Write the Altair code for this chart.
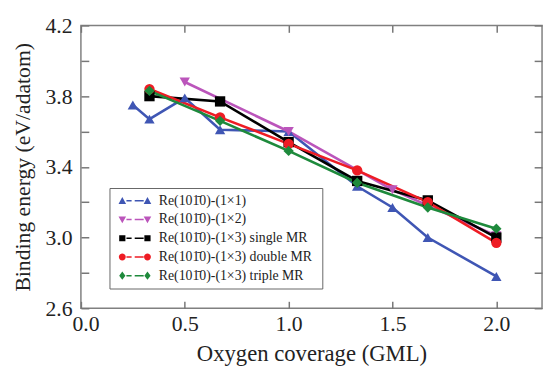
import altair as alt
import pandas as pd

# ---- data ----
series_names = [
    "Re(101\u03040)-(1\u00d71)",
    "Re(101\u03040)-(1\u00d72)",
    "Re(101\u03040)-(1\u00d73)  single MR",
    "Re(101\u03040)-(1\u00d73)  double MR",
    "Re(101\u03040)-(1\u00d73)  triple MR",
]
x_1x1 = [0.25, 0.33, 0.50, 0.67, 1.00, 1.33, 1.50, 1.67, 2.00]
y_1x1 = [3.75, 3.67, 3.79, 3.61, 3.60, 3.29, 3.17, 3.00, 2.78]
x_1x2 = [0.50, 1.00, 1.50, 2.00]
y_1x2 = [3.88, 3.60, 3.27, 3.01]
x_single = [0.33, 0.67, 1.00, 1.33, 1.67, 2.00]
y_single = [3.80, 3.77, 3.54, 3.32, 3.21, 3.00]
x_double = [0.33, 0.67, 1.00, 1.33, 1.67, 2.00]
y_double = [3.84, 3.68, 3.53, 3.38, 3.20, 2.97]
x_triple = [0.33, 0.67, 1.00, 1.33, 1.67, 2.00]
y_triple = [3.83, 3.66, 3.49, 3.31, 3.17, 3.05]

x_ticks = [0.0, 0.5, 1.0, 1.5, 2.0]
y_ticks = [2.6, 2.8, 3.0, 3.2, 3.4, 3.6, 3.8, 4.0, 4.2]
y_labels = ["2.6", "3.0", "3.4", "3.8", "4.2"]

colors = ["#3f56b4", "#bb55bb", "#000000", "#ee1c24", "#1e8a3c"]
shapes = ["triangle-up", "triangle-down", "square", "circle", "diamond"]

# legend symbols: marker, dash, dash, marker (unit = sqrt(size)/2 px)
def leg_path(marker):
    dash = "M1.2,-0.22 L2.7,-0.22 L2.7,0.22 L1.2,0.22 Z M3.6,-0.22 L6.2,-0.22 L6.2,0.22 L3.6,0.22 Z "
    if marker == "up":
        m = lambda c: f"M{c-1.1},0.9 L{c+1.1},0.9 L{c},-1.1 Z "
    elif marker == "down":
        m = lambda c: f"M{c-1.1},-0.9 L{c+1.1},-0.9 L{c},1.1 Z "
    elif marker == "square":
        m = lambda c: f"M{c-0.9},-0.9 L{c+0.9},-0.9 L{c+0.9},0.9 L{c-0.9},0.9 Z "
    elif marker == "circle":
        m = lambda c: f"M{c-1},0 A1,1 0 1,0 {c+1},0 A1,1 0 1,0 {c-1},0 Z "
    else:
        m = lambda c: f"M{c},-1.2 L{c+0.9},0 L{c},1.2 L{c-0.9},0 Z "
    return m(0) + dash + m(7.3)

legend_shapes = [leg_path(k) for k in ["up", "down", "square", "circle", "diamond"]]

rows = []
for name, xs, ys in zip(series_names,
                        [x_1x1, x_1x2, x_single, x_double, x_triple],
                        [y_1x1, y_1x2, y_single, y_double, y_triple]):
    for i, (xv, yv) in enumerate(zip(xs, ys)):
        rows.append({"series": name, "x": xv, "y": yv, "order": i})
df = pd.DataFrame(rows)
leg_df = pd.DataFrame({"series": series_names})

FONT = "Liberation Serif"
xscale = alt.Scale(domain=[0, 2.22], nice=False, zero=False)
yscale = alt.Scale(domain=[2.6, 4.2], nice=False, zero=False)
cscale = alt.Scale(domain=series_names, range=colors)

x_bottom = alt.Axis(values=x_ticks, format=".1f", title="Oxygen coverage (GML)",
                    orient="bottom", offset=-7, tickSize=7, domain=False, grid=False,
                    labelFontSize=22, labelFont=FONT, labelColor="#222", labelPadding=6,
                    labelFlush=True, labelFlushOffset=9,
                    titleFontSize=23, titleFont=FONT, titleFontWeight="normal",
                    titleColor="#222", titlePadding=8, tickColor="#777", tickWidth=1.5)
y_left = alt.Axis(values=y_ticks, format=".1f", title="Binding energy (eV/adatom)",
                  orient="left", offset=-8, tickSize=8, domain=False, grid=False,
                  labelExpr="indexof(" + str(y_labels) + ", datum.label) >= 0 ? datum.label : ''",
                  labelFontSize=22, labelFont=FONT, labelColor="#222", labelPadding=9,
                  titleFontSize=22, titleFont=FONT, titleFontWeight="normal",
                  titleColor="#222", titlePadding=11, tickColor="#777", tickWidth=1.5)
x_top = alt.Axis(values=x_ticks, orient="top", offset=-7, tickSize=7, labels=False,
                 domain=False, grid=False, title=None, tickColor="#777", tickWidth=1.5)
y_right = alt.Axis(values=y_ticks, orient="right", offset=-8, tickSize=8, labels=False,
                   domain=False, grid=False, title=None, tickColor="#777", tickWidth=1.5)

lines = alt.Chart(df).mark_line(strokeWidth=2.6).encode(
    x=alt.X("x:Q", scale=xscale, axis=x_bottom),
    y=alt.Y("y:Q", scale=yscale, axis=y_left),
    color=alt.Color("series:N", scale=cscale, legend=None),
    order="order:Q",
)

points = alt.Chart(df).mark_point(filled=True, size=110, opacity=1).encode(
    x=alt.X("x:Q", scale=xscale, axis=x_top),
    y=alt.Y("y:Q", scale=yscale, axis=y_right),
    color=alt.Color("series:N", scale=cscale, legend=None),
    shape=alt.Shape("series:N", scale=alt.Scale(domain=series_names, range=shapes), legend=None),
)

legend = alt.Legend(
    title=None, orient="none", legendX=29, legendY=165,
    labelFont=FONT, labelFontSize=14, labelColor="#222", labelLimit=300,
    symbolSize=49, symbolStrokeWidth=0, symbolOpacity=1, labelOffset=30,
    rowPadding=5, padding=6, strokeColor="#666", fillColor="white",
)
leg_layer = alt.Chart(leg_df).mark_point(filled=True, opacity=0).encode(
    color=alt.Color("series:N", scale=cscale, legend=legend),
    shape=alt.Shape("series:N", scale=alt.Scale(domain=series_names, range=legend_shapes),
                    legend=legend),
)

chart = alt.layer(lines, points, leg_layer).resolve_scale(
    color="independent", shape="independent"
).resolve_axis(x="independent", y="independent").properties(
    width=468, height=287,
    autosize=alt.AutoSizeParams(type="none"),
    padding={"left": 74, "top": 15, "right": 3, "bottom": 59},
).configure(font=FONT).configure_axis(
    labelFont=FONT, titleFont=FONT
).configure_legend(labelFont=FONT).configure_view(stroke="#808080", strokeWidth=1.5)

chart.save("out.html", embed_options={"renderer": "svg", "actions": False})
